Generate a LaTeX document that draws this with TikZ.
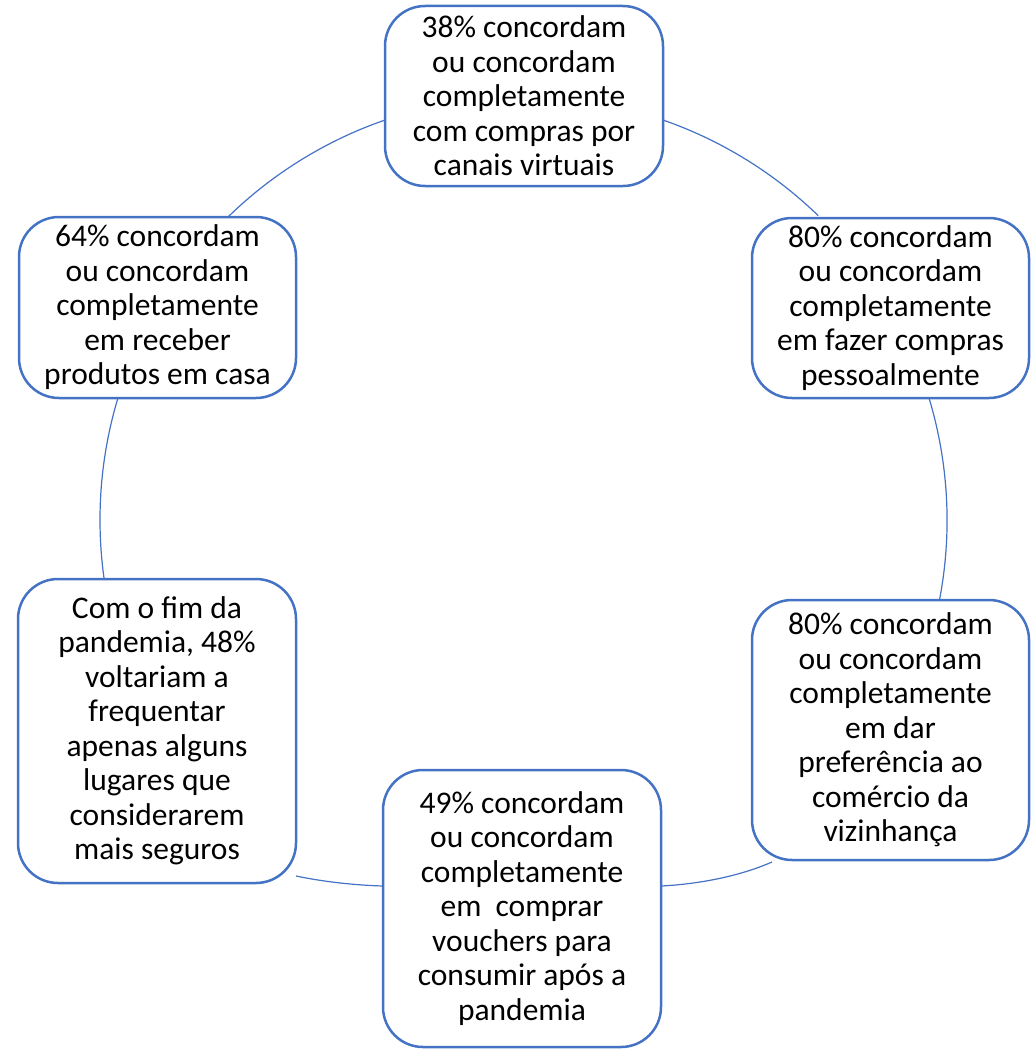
\documentclass[tikz,border=0pt]{standalone}
\usepackage{fontspec}
\setmainfont{Carlito}
\begin{document}
\begin{tikzpicture}[x=1pt,y=1pt,
  box/.style={draw=boxblue, line width=2.5pt, fill=white, rounded corners=40pt,
    inner sep=0pt, align=center, text=black,
    font=\fontsize{31.5}{34.5}\selectfont},
  link/.style={draw=boxblue, line width=1.2pt}]
\definecolor{boxblue}{HTML}{4472C4}
\useasboundingbox (0,0) rectangle (1033,-1049);
% arcs first (behind boxes)
\coordinate (a61s) at (228,-217);
\coordinate (a12s) at (663,-120);
\coordinate (a23s) at (929,-398);
\coordinate (a34s) at (772,-862);
\coordinate (a34e) at (661,-886);
\coordinate (a45s) at (383,-886);
\coordinate (a45e) at (296,-876);
\coordinate (a56s) at (104,-578);
\draw[link] (a61s) arc[start angle=134.3, end angle=109.2, radius=423];
\draw[link] (a12s) arc[start angle=70.8, end angle=45.9, radius=423];
\draw[link] (a23s) arc[start angle=16.8, end angle=-10.9, radius=423];
\draw[link] (a34s) .. controls (740,-876) and (700,-884) .. (a34e);
\draw[link] (a45s) .. controls (350,-885) and (320,-881) .. (a45e);
\draw[link] (a56s) arc[start angle=187.9, end angle=163.3, radius=423];
% boxes
\node[box, minimum width=278pt, minimum height=180pt] (b1) at (524,-96)
  {38\% concordam\\ou concordam\\completamente\\com compras por\\canais virtuais};
\node[box, minimum width=277pt, minimum height=180pt] (b2) at (890.5,-308)
  {80\% concordam\\ou concordam\\completamente\\em fazer compras\\pessoalmente};
\node[box, minimum width=277pt, minimum height=260pt] (b3) at (890.5,-730)
  {80\% concordam\\ou concordam\\completamente\\em dar\\preferência ao\\comércio da\\vizinhança};
\node[box, minimum width=278pt, minimum height=277pt] (b4) at (522,-908.5)
  {49\% concordam\\ou concordam\\completamente\\em\ \ comprar\\vouchers para\\consumir após a\\pandemia};
\node[box, minimum width=278pt, minimum height=304pt] (b5) at (157,-731)
  {Com o fim da\\pandemia, 48\%\\voltariam a\\frequentar\\apenas alguns\\lugares que\\considerarem\\mais seguros};
\node[box, minimum width=277pt, minimum height=181pt] (b6) at (157.5,-307.5)
  {64\% concordam\\ou concordam\\completamente\\em receber\\produtos em casa};
\end{tikzpicture}
\end{document}
